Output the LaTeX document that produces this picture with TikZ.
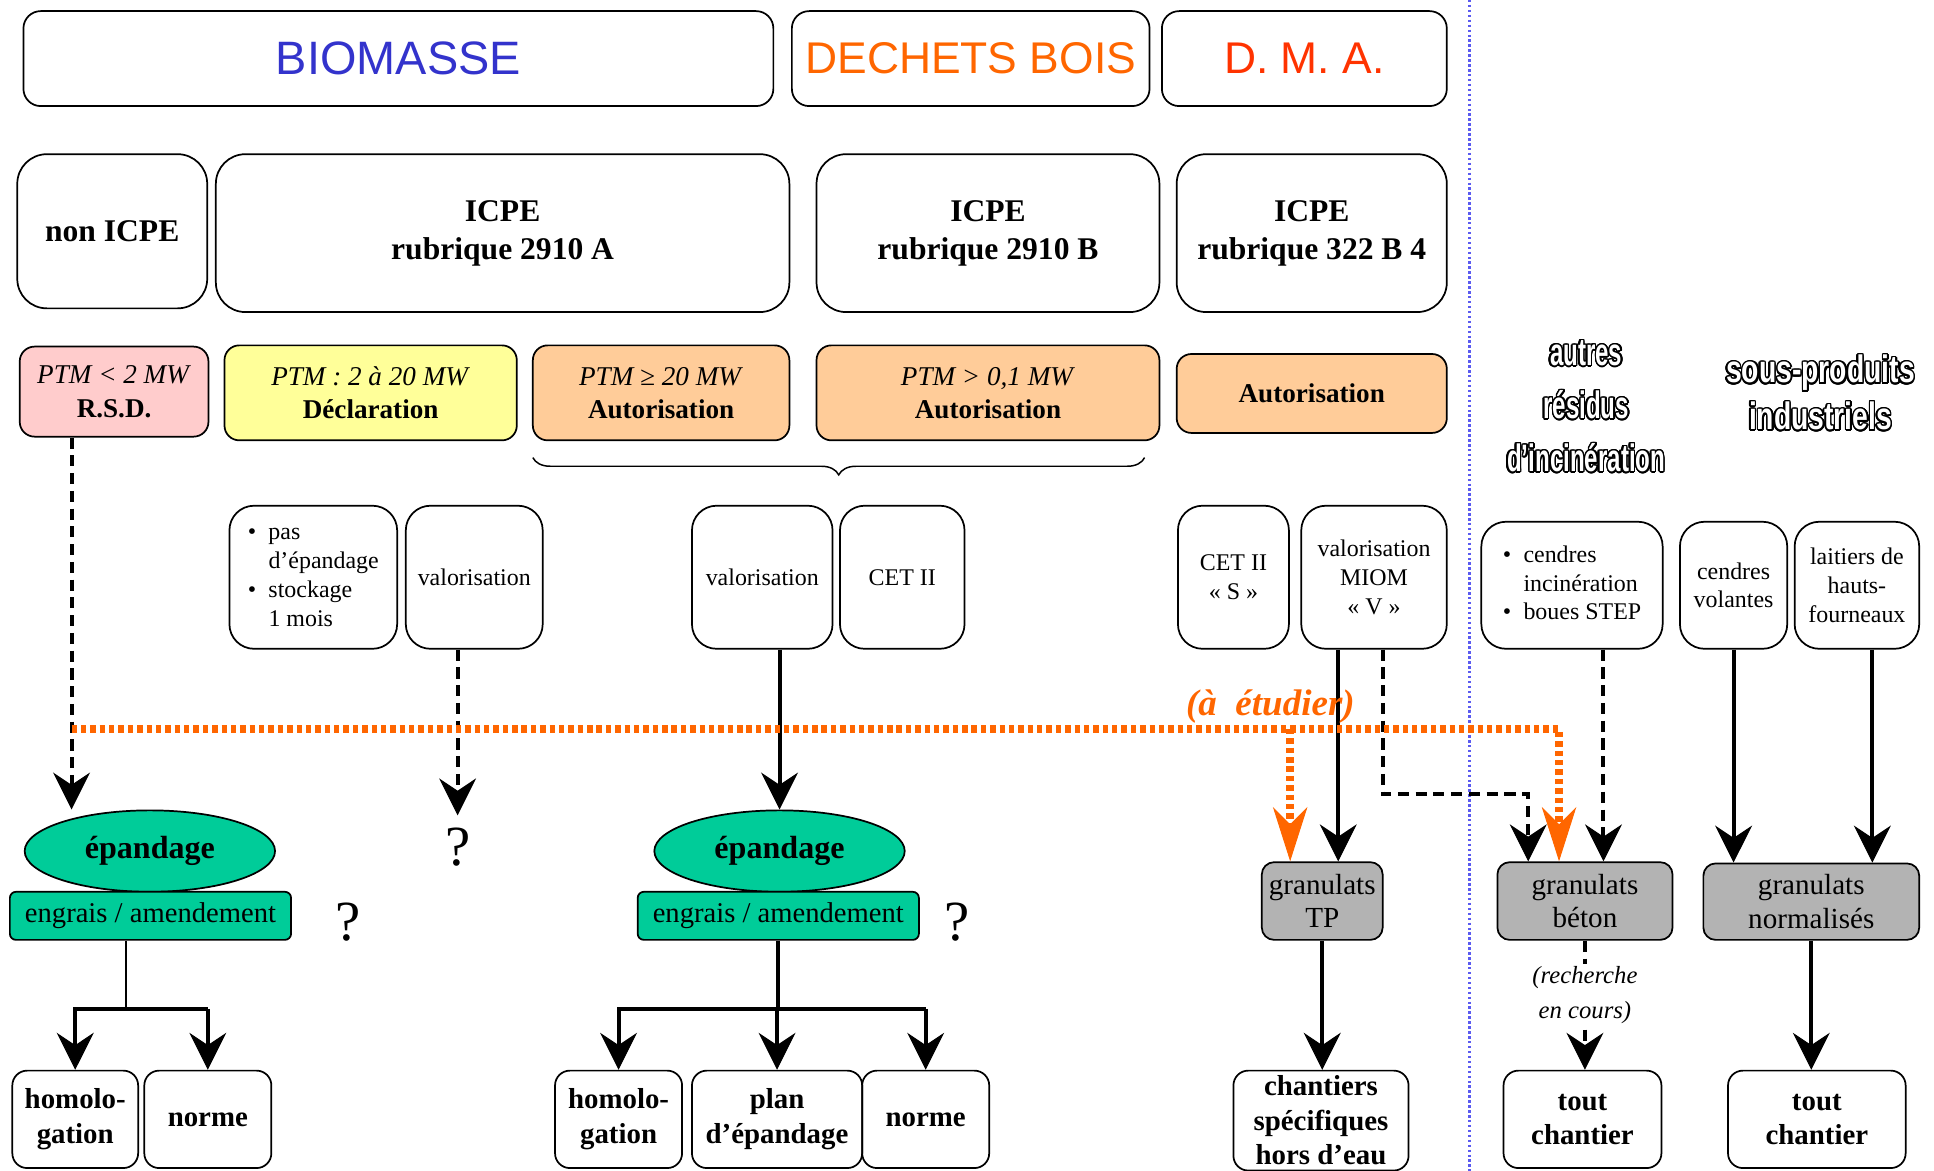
\documentclass[tikz,border=0pt]{standalone}
\usepackage{fontspec}
\setmainfont{Liberation Serif}
\setsansfont{Liberation Sans}
\usepackage{xcolor}
\usepackage{graphicx}
\usepackage{contour}
\usepackage{tikz}
\usetikzlibrary{shapes.geometric,arrows.meta,positioning,calc,decorations.pathreplacing}
\definecolor{biomblue}{RGB}{51, 51, 204}
\definecolor{boisorange}{RGB}{255, 102, 0}
\definecolor{dmared}{RGB}{255, 51, 0}
\definecolor{rsdpink}{RGB}{255, 204, 204}
\definecolor{declyellow}{RGB}{255, 255, 153}
\definecolor{autpeach}{RGB}{255, 204, 153}
\definecolor{epgreen}{RGB}{0, 204, 153}
\definecolor{grangray}{RGB}{179, 179, 179}
\definecolor{sepblue}{RGB}{90, 90, 240}
\contourlength{0.6pt}
\contournumber{24}
\newcommand{\fsz}[2]{\fontsize{#1}{#2}\selectfont}
\newcommand{\hollow}[2][0.63]{{\color{white}\contour{black}{\scalebox{#1}[1]{#2}}}}

\begin{document}
\begin{tikzpicture}[x=0.5pt, y=-0.5pt, >={Stealth[length=15pt,width=15pt,inset=5pt,line width=0.4pt]},
    every node/.style={font=\fsz{11}{13.5}},
    head/.style={draw, rounded corners=7pt, line width=0.7pt, minimum height=38.5pt, inner sep=1pt, font=\fsz{18}{22}\sffamily},
    icpe/.style={draw, rounded corners=12pt, line width=0.7pt, minimum height=64pt, align=center, font=\fsz{12.8}{15.5}\bfseries},
    ptm/.style={draw, rounded corners=6pt, line width=0.7pt, minimum height=38.5pt, align=center, font=\fsz{11}{13.5}},
    filiere/.style={draw, rounded corners=10pt, line width=0.7pt, minimum height=58pt, align=center, inner sep=2pt, font=\fsz{9.7}{11.7}},
    hollowtxt/.style={align=center, font=\fsz{15.5}{21.5}\sffamily\bfseries},
    epand/.style={ellipse, draw, fill=epgreen, line width=0.7pt, minimum width=101.5pt, minimum height=33pt, inner sep=0pt, font=\fsz{13}{15}\bfseries},
    engrais/.style={draw, fill=epgreen, rounded corners=2.5pt, line width=0.7pt, minimum width=114pt, minimum height=19.5pt, inner sep=0pt, font=\fsz{11.6}{13}},
    gran/.style={draw, fill=grangray, rounded corners=5pt, line width=0.7pt, minimum height=31.5pt, align=center, inner sep=0pt, font=\fsz{11.8}{13.5}},
    usage/.style={draw, rounded corners=6pt, line width=0.7pt, minimum height=39.5pt, align=center, inner sep=0pt, font=\fsz{11.7}{14}\bfseries},
    quest/.style={inner sep=0pt, font=\fsz{23}{24}},
    arr/.style={->, line width=1.6pt},
    dasharr/.style={->, line width=1.6pt, dash pattern=on 4.5pt off 2.7pt},
    etude/.style={-{Stealth[length=22pt,width=14pt,inset=7pt,line width=0.4pt]}, boisorange, line width=3.2pt, dash pattern=on 2.2pt off 1.6pt}]
    \useasboundingbox (0,0) rectangle (1568,949);

    \node[head, minimum width=304pt, text=biomblue, font=\fsz{19}{22}\sffamily] (biomasse) at (323,47.5) {BIOMASSE};
    \node[head, minimum width=145pt, text=boisorange] (dechets) at (787,47.5) {DECHETS BOIS};
    \node[head, minimum width=115.5pt, text=dmared] (dma) at (1057.5,47.5) {D. M. A.};

    \node[icpe, minimum width=77pt, minimum height=62.5pt] (nonicpe) at (91,187.5) {non ICPE};
    \node[icpe, minimum width=232.5pt] (icpeA) at (407.5,189) {ICPE\\rubrique 2910 A};
    \node[icpe, minimum width=139pt] (icpeB) at (801,189) {ICPE\\rubrique 2910 B};
    \node[icpe, minimum width=109.5pt] (icpeC) at (1063.5,189) {ICPE\\rubrique 322 B 4};

    \node[ptm, fill=rsdpink, minimum width=76.5pt, minimum height=36.5pt] (rsd) at (92.5,317.5) {\textit{PTM < 2 MW}\\\textbf{R.S.D.}};
    \node[ptm, fill=declyellow, minimum width=118.5pt] (decl) at (300.5,318.5) {\textit{PTM : 2 à 20 MW}\\\textbf{Déclaration}};
    \node[ptm, fill=autpeach, minimum width=104pt] (autA) at (536,318.5) {\textit{PTM ≥ 20 MW}\\\textbf{Autorisation}};
    \node[ptm, fill=autpeach, minimum width=139pt] (autB) at (801,318.5) {\textit{PTM > 0,1 MW}\\\textbf{Autorisation}};
    \node[ptm, fill=autpeach, minimum width=109.5pt, minimum height=32pt] (autC) at (1063.5,319) {\textbf{Autorisation}};

    \coordinate (braceL) at (432,371);
    \coordinate (braceR) at (928,371);
    \draw[decorate, decoration={brace, mirror, amplitude=7pt}, line width=0.6pt] (braceL) -- (braceR);

    \node[filiere, minimum width=68pt] (pasep) at (254,468) {\begin{tabular}{@{}l@{\hspace{5pt}}l@{}}\textbullet & pas\\ & d’épandage\\ \textbullet & stockage\\ & 1 mois\end{tabular}};
    \node[filiere, minimum width=55.5pt] (valA) at (384.5,468) {valorisation};
    \node[filiere, minimum width=57pt] (valB) at (618,468) {valorisation};
    \node[filiere, minimum width=50.5pt] (cetA) at (731.5,468) {CET II};
    \node[filiere, minimum width=45pt] (cetS) at (1000,468) {CET II\\«~S~»};
    \node[filiere, minimum width=59pt] (miom) at (1114,468) {valorisation\\MIOM\\«~V~»};
    \node[filiere, minimum width=73.5pt, minimum height=51.5pt] (cendinc) at (1274.5,474.5) {\begin{tabular}{@{}l@{\hspace{5pt}}l@{}}\textbullet & cendres\\ & incinération\\ \textbullet & boues STEP\end{tabular}};
    \node[filiere, minimum width=43.5pt, minimum height=51.5pt] (cendvol) at (1405.5,474.5) {cendres\\volantes};
    \node[filiere, minimum width=50.5pt, minimum height=51.5pt] (laitiers) at (1505.5,474.5) {laitiers de\\hauts-\\fourneaux};

    \node[hollowtxt] (residus) at (1286,330) {\hollow{autres}\\\hollow{résidus}\\\hollow{d'incinération}};
    \node[hollowtxt, font=\fsz{15.5}{19}\sffamily\bfseries] (sousprod) at (1476,319) {\hollow[0.74]{sous-produits}\\\hollow[0.74]{industriels}};

    \node[epand] (epA) at (121.5,690) {épandage};
    \node[engrais] (engA) at (122,742.5) {engrais / amendement};
    \node[epand] (epB) at (632,690) {épandage};
    \node[engrais] (engB) at (631,742.5) {engrais / amendement};
    \node[quest] (qA) at (371,687) {?};
    \node[quest] (qB) at (282,748) {?};
    \node[quest] (qC) at (776,748) {?};
    \node[gran, minimum width=49pt] (granTP) at (1072,730.5) {granulats\\TP};
    \node[gran, minimum width=71pt] (granBet) at (1285,730.5) {granulats\\béton};
    \node[gran, minimum width=87.5pt, minimum height=31pt] (granNorm) at (1468.5,731) {granulats\\normalisés};

    \node[usage, minimum width=51pt] (homA) at (61,907.5) {homolo-\\gation};
    \node[usage, minimum width=51.5pt] (normA) at (168.5,907.5) {norme};
    \node[usage, minimum width=51.5pt] (homB) at (501.5,907.5) {homolo-\\gation};
    \node[usage, minimum width=69pt] (planB) at (630,907.5) {plan\\d’épandage};
    \node[usage, minimum width=51.5pt] (normB) at (750.5,907.5) {norme};
    \node[usage, minimum width=71pt, minimum height=40.5pt] (chant) at (1071,908.5) {chantiers\\spécifiques\\hors d’eau};
    \node[usage, minimum width=64pt] (toutA) at (1283,907.5) {tout\\chantier};
    \node[usage, minimum width=72pt] (toutB) at (1473,907.5) {tout\\chantier};

    \draw[sepblue, line width=1.2pt, dash pattern=on 1pt off 1pt] (1191,0) -- (1191,949);

    \coordinate (rsdout) at (58,0);
    \coordinate (brancheA) at (102,818);
    \coordinate (brancheB) at (631,818);
    \coordinate (miomG) at (1085,0);
    \coordinate (miomD) at (1121,0);
    \coordinate (coude) at (1239,644);
    \coordinate (cendout) at (1300,0);
    \coordinate (laitout) at (1518,0);

    \draw[dasharr] (rsdout |- rsd.south) -- (rsdout |- epA.north);
    \draw[dasharr, shorten >=5pt] (valA.south -| qA.north) -- (qA.north);
    \draw[arr] (valB.south -| epB.north) -- (epB.north);

    \draw[line width=0.6pt] (brancheA |- engA.south) -- (brancheA);
    \draw[arr] (brancheA -| normA.north) -- (brancheA -| homA.north) -- (homA.north);
    \draw[arr] (brancheA -| normA.north) -- (normA.north);

    \draw[line width=1.6pt] (engB.south) -- (brancheB);
    \draw[arr] (brancheB -| normB.north) -- (brancheB -| homB.north) -- (homB.north);
    \draw[arr] (brancheB -| planB.north) -- (planB.north);
    \draw[arr] (brancheB -| normB.north) -- (normB.north);

    \draw[arr] (miomG |- miom.south) -- (miomG |- granTP.north);
    \draw[dasharr] (miomD |- miom.south) |- (coude) -- (coude |- granBet.north);
    \draw[dasharr] (cendout |- cendinc.south) -- (cendout |- granBet.north);
    \draw[arr] (cendvol.south) -- (cendvol.south |- granNorm.north);
    \draw[arr] (laitout |- laitiers.south) -- (laitout |- granNorm.north);

    \draw[arr] (granTP.south) -- (granTP.south |- chant.north);
    \draw[dasharr] (granBet.south) -- node[pos=0.42, fill=white, inner sep=1pt, align=center, font=\fsz{10}{14}\itshape] (recherche) {(recherche\\en cours)} (granBet.south |- toutA.north);
    \draw[arr] (granNorm.south) -- (granNorm.south |- toutB.north);

    \coordinate (etudA) at (58,591);
    \coordinate (etudB) at (1046,591);
    \coordinate (etudC) at (1264,591);
    \draw[etude] (etudA) -- (etudC) -- (etudC |- granBet.north);
    \draw[etude] (etudB) -- (etudB |- granTP.north);
    \node[font=\fsz{15}{17}\bfseries\itshape, text=boisorange] (etudlbl) at (1030,573) {(à\ \ étudier)};
\end{tikzpicture}
\end{document}
